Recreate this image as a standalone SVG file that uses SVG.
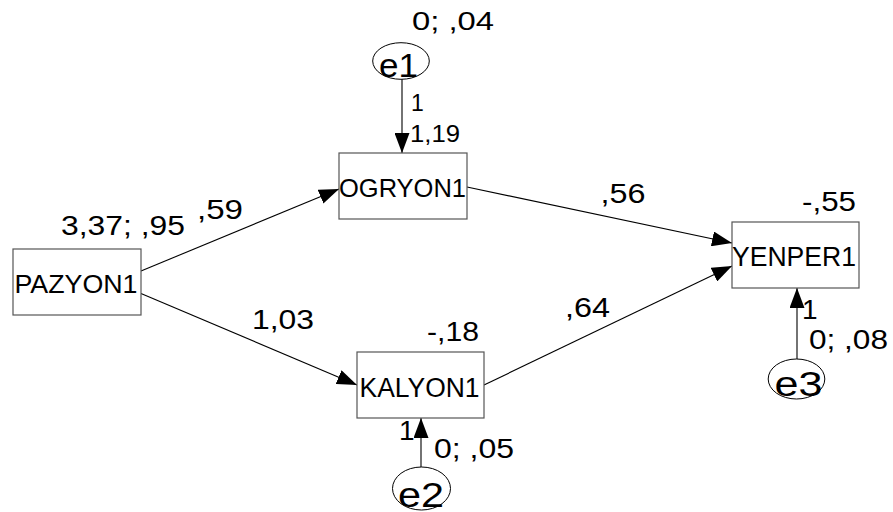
<svg xmlns="http://www.w3.org/2000/svg" width="893" height="512" viewBox="0 0 893 512">
  <style>
    .box { fill: #ffffff; stroke: #555555; stroke-width: 1.2; }
    .err { fill: #ffffff; stroke: #000000; stroke-width: 1; }
    .path { fill: none; stroke: #000000; stroke-width: 1.1; marker-end: url(#head); }
    text { font-family: "Liberation Sans", Arial, sans-serif; fill: #000000; }
    .lbl { font-size: 27px; text-anchor: middle; }
    .name { font-size: 26px; text-anchor: middle; }
    .ename { font-size: 35px; text-anchor: middle; }
  </style>
  <defs>
    <marker id="head" markerUnits="userSpaceOnUse" markerWidth="20" markerHeight="15" refX="20" refY="7.5" orient="auto">
      <path d="M0,0 L20,7.5 L0,15 Z" fill="#000000"/>
    </marker>
  </defs>
  <rect width="893" height="512" fill="#ffffff"/>

  <!-- paths between variables -->
  <g id="connectors">
    <line class="path" x1="141" y1="271" x2="339" y2="189"/>
    <line class="path" x1="141" y1="293.5" x2="357" y2="385"/>
    <line class="path" x1="467" y1="187" x2="732" y2="243"/>
    <line class="path" x1="484" y1="385" x2="732" y2="266"/>
    <line class="path" x1="402" y1="79" x2="402" y2="153"/>
    <line class="path" x1="421" y1="467" x2="421" y2="418"/>
    <line class="path" x1="797" y1="359" x2="797" y2="288"/>
  </g>

  <!-- path coefficients -->
  <g id="coefficients">
    <text class="lbl" x="220" y="219" textLength="46" lengthAdjust="spacingAndGlyphs">,59</text>
    <text class="lbl" x="283" y="329" textLength="62" lengthAdjust="spacingAndGlyphs" style="font-size:28px">1,03</text>
    <text class="lbl" x="623" y="203" textLength="45" lengthAdjust="spacingAndGlyphs">,56</text>
    <text class="lbl" x="587.5" y="317" textLength="45" lengthAdjust="spacingAndGlyphs">,64</text>
    <text x="411" y="111" style="font-size:23px">1</text>
    <text x="399" y="440" style="font-size:28px">1</text>
    <text x="802" y="319" style="font-size:28px">1</text>
  </g>

  <g id="PAZYON1">
    <rect class="box" x="13" y="249" width="128" height="66"/>
    <text class="name" x="76" y="293" textLength="123" lengthAdjust="spacingAndGlyphs">PAZYON1</text>
    <text class="lbl" x="123" y="235" textLength="124" lengthAdjust="spacingAndGlyphs">3,37; ,95</text>
  </g>

  <g id="OGRYON1">
    <rect class="box" x="339" y="153" width="128" height="66"/>
    <text class="name" x="402.5" y="197" textLength="127" lengthAdjust="spacingAndGlyphs">OGRYON1</text>
    <text class="lbl" x="435" y="142" textLength="50" lengthAdjust="spacingAndGlyphs" style="font-size:24px">1,19</text>
  </g>

  <g id="KALYON1">
    <rect class="box" x="357" y="352" width="127" height="66"/>
    <text class="name" x="419.5" y="397" textLength="120" lengthAdjust="spacingAndGlyphs" style="font-size:27px">KALYON1</text>
    <text class="lbl" x="453" y="341" textLength="52" lengthAdjust="spacingAndGlyphs">-,18</text>
  </g>

  <g id="YENPER1">
    <rect class="box" x="732" y="222" width="127" height="66"/>
    <text class="name" x="794" y="266" textLength="124" lengthAdjust="spacingAndGlyphs" style="font-size:27px">YENPER1</text>
    <text class="lbl" x="829" y="211" textLength="54" lengthAdjust="spacingAndGlyphs">-,55</text>
  </g>

  <g id="e1">
    <ellipse class="err" cx="401" cy="61" rx="28.3" ry="18.3"/>
    <text class="ename" x="398.5" y="77" textLength="39" lengthAdjust="spacingAndGlyphs" style="font-size:34px">e1</text>
    <text class="lbl" x="453" y="30" textLength="82" lengthAdjust="spacingAndGlyphs" style="font-size:26px">0; ,04</text>
  </g>

  <g id="e2">
    <ellipse class="err" cx="421.5" cy="488.5" rx="29" ry="21.5"/>
    <text class="ename" x="421" y="507" textLength="46" lengthAdjust="spacingAndGlyphs">e2</text>
    <text class="lbl" x="474" y="458" textLength="80" lengthAdjust="spacingAndGlyphs">0; ,05</text>
  </g>

  <g id="e3">
    <ellipse class="err" cx="796.5" cy="379" rx="28.3" ry="20"/>
    <text class="ename" x="798.5" y="396" textLength="48" lengthAdjust="spacingAndGlyphs">e3</text>
    <text class="lbl" x="848.5" y="349" textLength="79" lengthAdjust="spacingAndGlyphs">0; ,08</text>
  </g>
</svg>
